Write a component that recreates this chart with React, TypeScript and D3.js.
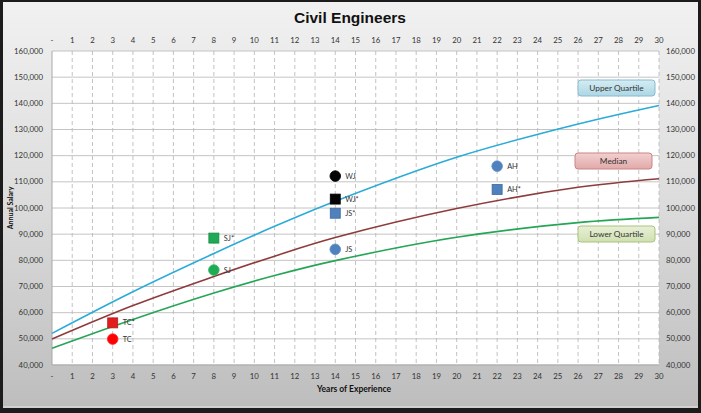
import React from "react";
import * as d3 from "d3";

const W = 701;
const H = 413;

const years = [0, 4, 8, 11, 14, 20, 26, 30];
const upperQuartile = [52100, 68000, 82600, 93000, 102600, 119400, 132100, 139200];
const median = [49900, 62700, 73800, 81600, 88700, 99800, 107900, 111200];
const lowerQuartile = [46400, 57400, 67500, 74200, 79900, 88800, 94400, 96400];

const xTicks = d3.range(0, 31);
const yTicks = d3.range(40000, 160001, 10000);

type Pt = { name: string; x: number; y: number; shape: "circle" | "square"; color: string; stroke: string };
const pointNames = ["TC", "TC*", "SJ", "SJ*", "WJ", "WJ*", "JS*", "JS", "AH", "AH*"];
const pointX = [3, 3, 8, 8, 14, 14, 14, 14, 22, 22];
const pointY = [49900, 56100, 76300, 88500, 112200, 103400, 98000, 84200, 116000, 107100];
const pointShape: ("circle" | "square")[] = ["circle", "square", "circle", "square", "circle", "square", "square", "circle", "circle", "square"];
const pointColor = ["#ff0000", "#e31c1c", "#1faa55", "#1faa55", "#050505", "#050505", "#4f81bd", "#4f81bd", "#4f81bd", "#4f81bd"];
const pointStroke = ["#ff2a2a", "#b02020", "#2db860", "#158a40", "#000", "#000", "#3c6aa0", "#5b8dc8", "#5b8dc8", "#3c6aa0"];

const points: Pt[] = pointNames.map((n, i) => ({
  name: n,
  x: pointX[i],
  y: pointY[i],
  shape: pointShape[i],
  color: pointColor[i],
  stroke: pointStroke[i],
}));

const legendLabels = ["Upper Quartile", "Median", "Lower Quartile"];
const legendStroke = ["#86bccf", "#c98585", "#a9c47a"];
const legendBox = [
  { x: 578, y: 80, w: 77, h: 16 },
  { x: 575, y: 153, w: 77, h: 16 },
  { x: 578, y: 226, w: 77, h: 16 },
];

const lineColors = ["#2aabd8", "#8e3b3b", "#25a556"];

export default function App() {
  const left = 52;
  const right = 659;
  const top = 51;
  const bottom = 365;
  const x = d3.scaleLinear().domain([0, 30]).range([left, right]);
  const y = d3.scaleLinear().domain([40000, 160000]).range([bottom, top]);
  const line = d3
    .line<number>()
    .x((_, i) => x(years[i]))
    .y((d) => y(d))
    .curve(d3.curveCatmullRom.alpha(0.5));
  const series = [upperQuartile, median, lowerQuartile];
  const font = "Lato, 'Open Sans', sans-serif";

  return (
    <svg width={W} height={H} style={{ position: "absolute", left: 0, top: 0 }} xmlns="http://www.w3.org/2000/svg">
      <defs>
        <linearGradient id="bg" x1="0" y1="0" x2="0" y2="1">
          <stop offset="0" stopColor="#f1f1f1" />
          <stop offset="0.5" stopColor="#dcdcdc" />
          <stop offset="1" stopColor="#bdbdbd" />
        </linearGradient>
        <linearGradient id="lg0" x1="0" y1="0" x2="0" y2="1">
          <stop offset="0" stopColor="#d6ecf3" />
          <stop offset="1" stopColor="#acd6e4" />
        </linearGradient>
        <linearGradient id="lg1" x1="0" y1="0" x2="0" y2="1">
          <stop offset="0" stopColor="#f2d0d0" />
          <stop offset="1" stopColor="#e2a9a9" />
        </linearGradient>
        <linearGradient id="lg2" x1="0" y1="0" x2="0" y2="1">
          <stop offset="0" stopColor="#e8f0d8" />
          <stop offset="1" stopColor="#d0e0b0" />
        </linearGradient>
      </defs>
      <rect x={0} y={0} width={W} height={H} fill="#1c1c1c" />
      <rect x={3} y={2} width={W - 6} height={H - 7} fill="url(#bg)" />
      <line x1={3} x2={W - 3} y1={H - 6} y2={H - 6} stroke="#e6e6e6" strokeWidth={1} />

      <text x={350} y={22.5} textAnchor="middle" fontFamily="Arial, 'Liberation Sans', sans-serif" fontWeight="bold" fontSize={15.5} fill="#111">
        Civil Engineers
      </text>

      <rect x={left} y={top} width={right - left} height={bottom - top} fill="#ffffff" />

      {yTicks.map((t) => (
        <line key={"h" + t} x1={left} x2={right} y1={y(t)} y2={y(t)} stroke="#c4c4c4" strokeWidth={1} />
      ))}
      {xTicks.slice(1).map((t) => (
        <line key={"v" + t} x1={x(t)} x2={x(t)} y1={top} y2={bottom} stroke="#b4b4b4" strokeWidth={0.8} strokeDasharray="4,3" />
      ))}
      <line x1={left} x2={left} y1={top} y2={bottom} stroke="#a8a8a8" strokeWidth={1} />
      <line x1={left} x2={right} y1={bottom} y2={bottom} stroke="#a8a8a8" strokeWidth={1} />

      {xTicks.map((t) => (
        <text key={"xt" + t} x={x(t)} y={42.5} textAnchor="middle" fontFamily={font} fontSize={7.8} fill="#333">
          {t === 0 ? "-" : t}
        </text>
      ))}
      {xTicks.map((t) => (
        <text key={"xb" + t} x={x(t)} y={378.5} textAnchor="middle" fontFamily={font} fontSize={7.8} fill="#333">
          {t === 0 ? "-" : t}
        </text>
      ))}
      {yTicks.map((t) => (
        <text key={"yl" + t} x={43} y={y(t) + 2.6} textAnchor="end" fontFamily={font} fontSize={7.8} fill="#333">
          {d3.format(",")(t)}
        </text>
      ))}
      {yTicks.map((t) => (
        <text key={"yr" + t} x={666} y={y(t) + 2.6} textAnchor="start" fontFamily={font} fontSize={7.8} fill="#333">
          {d3.format(",")(t)}
        </text>
      ))}

      <text x={354} y={392} textAnchor="middle" fontFamily={font} fontWeight="bold" fontSize={8.5} fill="#111">
        Years of Experience
      </text>
      <text
        transform={`translate(13,${(top + bottom) / 2}) rotate(-90)`}
        textAnchor="middle"
        fontFamily={font}
        fontWeight="bold"
        fontSize={7}
        fill="#111"
      >
        Annual Salary
      </text>

      {series.map((s, i) => (
        <path key={"s" + i} d={line(s) || ""} fill="none" stroke={lineColors[i]} strokeWidth={1.6} />
      ))}

      {points.map((p) => {
        const cx = x(p.x);
        const cy = y(p.y);
        return (
          <g key={p.name}>
            {p.shape === "circle" ? (
              <circle cx={cx} cy={cy} r={5.3} fill={p.color} stroke={p.stroke} strokeWidth={0.8} />
            ) : (
              <rect x={cx - 5} y={cy - 5} width={10} height={10} fill={p.color} stroke={p.stroke} strokeWidth={0.8} />
            )}
            <text x={cx + 10} y={cy + 2.5} fontFamily={font} fontSize={7.3} fill="#333">
              {p.name}
            </text>
          </g>
        );
      })}

      {legendLabels.map((l, i) => {
        const b = legendBox[i];
        return (
          <g key={l}>
            <rect x={b.x} y={b.y} width={b.w} height={b.h} rx={3} fill={`url(#lg${i})`} stroke={legendStroke[i]} strokeWidth={1} />
            <text x={b.x + b.w / 2} y={b.y + b.h / 2 + 3} textAnchor="middle" fontFamily={font} fontSize={8.3} fill="#333">
              {l}
            </text>
          </g>
        );
      })}
    </svg>
  );
}
